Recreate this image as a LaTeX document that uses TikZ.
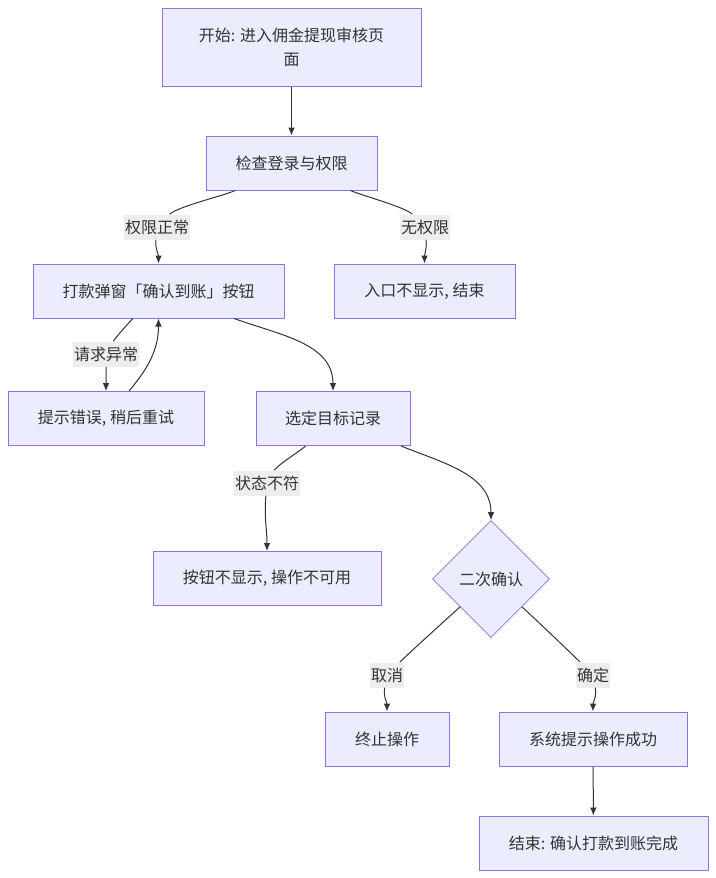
\documentclass[tikz,border=0pt]{standalone}
\usepackage{fontspec}
\setmainfont{Noto Sans CJK SC}
\usetikzlibrary{shapes.geometric,arrows.meta}
\definecolor{boxfill}{HTML}{ECECFF}
\definecolor{boxline}{HTML}{9370DB}
\definecolor{lblfill}{HTML}{E8E8E8}
\definecolor{ink}{HTML}{333333}
\begin{document}
\begin{tikzpicture}[x=0.75pt,y=-0.75pt]
	\tikzstyle{box}=[draw=boxline,fill=boxfill,line width=0.75pt,text=ink,font=\fontsize{12}{18}\selectfont,align=center,minimum height=40.5pt,inner sep=0pt]
	\tikzstyle{choice}=[diamond,draw=boxline,fill=boxfill,line width=0.6pt,text=ink,font=\fontsize{12}{18}\selectfont,minimum width=87.75pt,minimum height=87.75pt,inner sep=0pt]
	\tikzstyle{label}=[fill=lblfill,fill opacity=0.8,text opacity=1,text=ink,font=\fontsize{12}{18}\selectfont,inner xsep=0.5pt,inner ysep=0pt,minimum height=18.75pt]
	\tikzstyle{arrow1}=[-{Latex[length=6pt,width=5pt]},draw=ink,line width=0.75pt]
	\useasboundingbox (0,0) rectangle (716,878);
		\node [style=box, minimum width=194.25pt, minimum height=58.5pt] (0) at (291.5, 47) {开始: 进入佣金提现审核页\\面};
		\node [style=box, minimum width=128.25pt] (1) at (291.5, 163) {检查登录与权限};
		\node [style=box, minimum width=188.25pt] (2) at (158.5, 291) {打款弹窗「确认到账」按钮};
		\node [style=box, minimum width=135.75pt] (3) at (424.5, 291) {入口不显示, 结束};
		\node [style=box, minimum width=147pt] (4) at (106, 418.5) {提示错误, 稍后重试};
		\node [style=box, minimum width=115.5pt] (5) at (333, 418.5) {选定目标记录};
		\node [style=box, minimum width=171pt] (6) at (267, 578.5) {按钮不显示, 操作不可用};
		\node [style=choice] (7) at (491, 579) {二次确认};
		\node [style=box, minimum width=93pt] (8) at (387, 739) {终止操作};
		\node [style=box, minimum width=141pt] (9) at (593, 739) {系统提示操作成功};
		\node [style=box, minimum width=171.75pt] (10) at (593.5, 843) {结束: 确认打款到账完成};

		\node [style=label] (11) at (157, 227) {权限正常};
		\node [style=label] (12) at (425, 227) {无权限};
		\node [style=label] (13) at (106, 354) {请求异常};
		\node [style=label] (14) at (267, 483) {状态不符};
		\node [style=label] (15) at (387, 675) {取消};
		\node [style=label] (16) at (593, 675) {确定};

		\draw [style=arrow1] (0) to (1);
		\draw [style=arrow1] (1) to[out=206, in=45, looseness=0.4] (11) to[out=-95, in=90] (2);
		\draw [style=arrow1] (1) to[out=-25, in=135, looseness=0.4] (12) to[out=-85, in=90] (3);
		\draw [style=arrow1] (2) to[out=227, in=60, looseness=0.4] (13) to[out=-90, in=90] (4);
		\draw [style=arrow1] (4) to[out=50, in=-90] (2);
		\draw [style=arrow1] (2) to[out=-20, in=90] (5);
		\draw [style=arrow1] (5) to[out=225, in=60, looseness=0.4] (14) to[out=-95, in=90] (6);
		\draw [style=arrow1] (5) to[out=-22, in=90] (7);
		\draw [style=arrow1] (7) to[out=222, in=45, looseness=0.4] (15) to[out=-100, in=90] (8);
		\draw [style=arrow1] (7) to[out=-42, in=135, looseness=0.4] (16) to[out=-80, in=90] (9);
		\draw [style=arrow1] (9) to (10);

\end{tikzpicture}
\end{document}
